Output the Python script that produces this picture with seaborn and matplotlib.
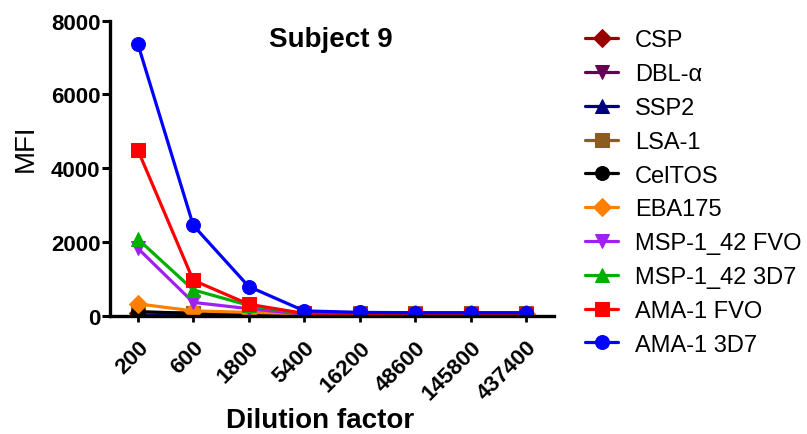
import numpy as np
import pandas as pd
import seaborn as sns
import matplotlib
matplotlib.use("Agg")
import matplotlib.pyplot as plt

sns.set_theme(style="ticks")
plt.rcParams["font.family"] = ["Liberation Sans", "DejaVu Sans"]
plt.rcParams.update({"text.color": "black", "axes.labelcolor": "black",
                     "xtick.color": "black", "ytick.color": "black"})

dilutions = ["200", "600", "1800", "5400", "16200", "48600", "145800", "437400"]

csp = [60, 50, 50, 50, 50, 50, 50, 50]
dbl_alpha = [40, 40, 40, 40, 40, 40, 40, 40]
ssp2 = [50, 50, 50, 50, 50, 50, 50, 50]
lsa1 = [90, 80, 80, 80, 80, 80, 80, 80]
celtos = [110, 60, 40, 40, 40, 40, 40, 40]
eba175 = [320, 130, 90, 50, 40, 40, 40, 40]
msp1_fvo = [1830, 360, 190, 40, 30, 30, 30, 30]
msp1_3d7 = [2080, 700, 280, 50, 30, 30, 30, 30]
ama1_fvo = [4500, 960, 310, 60, 40, 40, 40, 40]
ama1_3d7 = [7380, 2450, 790, 130, 90, 80, 80, 80]

series = [
    ("CSP", csp, "#990000", "D"),
    ("DBL-α", dbl_alpha, "#660055", "v"),
    ("SSP2", ssp2, "#00007f", "^"),
    ("LSA-1", lsa1, "#8c5c1e", "s"),
    ("CelTOS", celtos, "#000000", "o"),
    ("EBA175", eba175, "#ff8000", "D"),
    ("MSP-1_42 FVO", msp1_fvo, "#a020f0", "v"),
    ("MSP-1_42 3D7", msp1_3d7, "#00b000", "^"),
    ("AMA-1 FVO", ama1_fvo, "#ff0000", "s"),
    ("AMA-1 3D7", ama1_3d7, "#0000ff", "o"),
]

fig = plt.figure(figsize=(8.07, 4.35), dpi=100)
ax = fig.add_axes([0.1363, 0.272, 0.5502, 0.678])

pos = np.arange(len(dilutions))
handles = []
for name, vals, color, mk in series:
    df = pd.DataFrame({"pos": pos, "MFI": vals})
    sns.lineplot(data=df, x="pos", y="MFI", ax=ax, color=color, marker=mk,
                 markersize=10 if mk != "D" else 9.5, markeredgecolor=color,
                 linewidth=2.3, label=name, legend=False)
    handles.append(ax.lines[-1])

ax.set_xlim(-0.5, 7.5)
ax.set_ylim(0, 8000)
ax.set_yticks([0, 2000, 4000, 6000, 8000])
ax.set_xticks(pos)
ax.set_xticklabels(dilutions, rotation=45, ha="right", rotation_mode="anchor",
                   fontsize=16, fontweight="bold")
for t in ax.get_yticklabels():
    t.set_fontsize(16)
    t.set_fontweight("bold")

for side in ["top", "right"]:
    ax.spines[side].set_visible(False)
for side in ["left", "bottom"]:
    ax.spines[side].set_linewidth(2.4)
    ax.spines[side].set_color("black")
ax.tick_params(axis="y", width=2.2, length=6, pad=1)
ax.tick_params(axis="x", width=2, length=4, pad=11)

ax.set_xlabel("Dilution factor", fontsize=20, fontweight="bold")
ax.xaxis.label.set_va("baseline")
ax.xaxis.set_label_coords(0.472, -0.377)
ax.set_ylabel("MFI", fontsize=20)
ax.yaxis.label.set_va("baseline")
ax.yaxis.set_label_coords(-0.173, 0.572)
ax.text(0.498, 0.914, "Subject 9", transform=ax.transAxes, ha="center",
        va="baseline", fontsize=20, fontweight="bold")

fig.legend(handles=handles, labels=[s[0] for s in series],
           loc="upper left", bbox_to_anchor=(0.725, 0.930), frameon=False,
           borderpad=0, borderaxespad=0,
           fontsize=17, handlelength=1.4, labelspacing=0.5, handletextpad=0.72)

fig.savefig("out.png", dpi=100)
